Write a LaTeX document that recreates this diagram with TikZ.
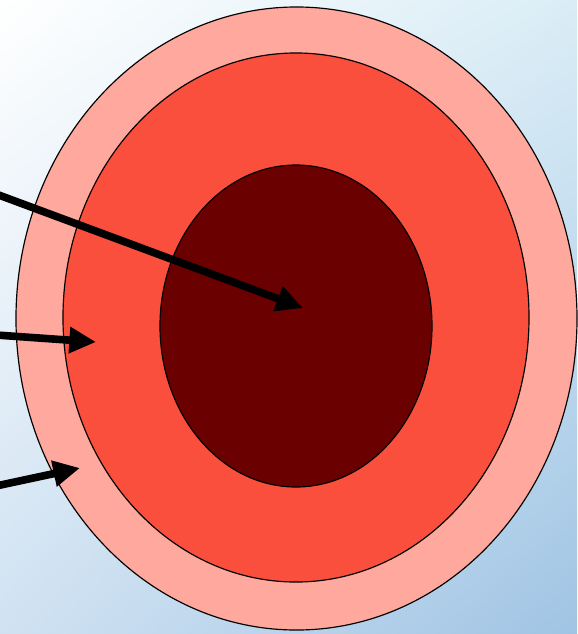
\documentclass[tikz,border=0pt]{standalone}
\usepackage{tikz}
\usetikzlibrary{arrows.meta,shapes.geometric,shadings}
\definecolor{skinpink}{HTML}{FFA89D}
\definecolor{skinred}{HTML}{FB4F3D}
\definecolor{skincore}{HTML}{6B0000}
\definecolor{skyblue}{HTML}{A0C4E4}
\definecolor{skyright}{HTML}{DAEDF6}
\definecolor{skyleft}{HTML}{D0E2F2}

\begin{document}
\begin{tikzpicture}[x=0.03cm,y=-0.03cm,
  layer/.style={ellipse,draw,line width=1pt,inner sep=0pt,outer sep=0pt},
  pointer/.style={line width=6.5pt,-{Triangle[length=0.8cm,width=0.75cm]}}]
% background
\shade[upper left=white,upper right=skyright,lower left=skyleft,lower right=skyblue] (0,0) rectangle (577,634);
\useasboundingbox (0,0) rectangle (577,634);
% layers
\node[layer,fill=skinpink,minimum width=16.83cm,minimum height=18.69cm] (outer) at (296.5,318.5) {};
\node[layer,fill=skinred,minimum width=13.98cm,minimum height=15.87cm] (middle) at (296,317.5) {};
\node[layer,fill=skincore,minimum width=8.16cm,minimum height=9.66cm] (core) at (296,326) {};
% pointers
\coordinate (fromcore) at (-4,194);
\coordinate (frommiddle) at (-4,335);
\coordinate (fromouter) at (-4,486);
\coordinate (atcore) at (303,308);
\coordinate (atmiddle) at (96,342);
\coordinate (atouter) at (80,468);
\draw[pointer] (fromcore) -- (atcore);
\draw[pointer] (frommiddle) -- (atmiddle);
\draw[pointer] (fromouter) -- (atouter);
\end{tikzpicture}
\end{document}
